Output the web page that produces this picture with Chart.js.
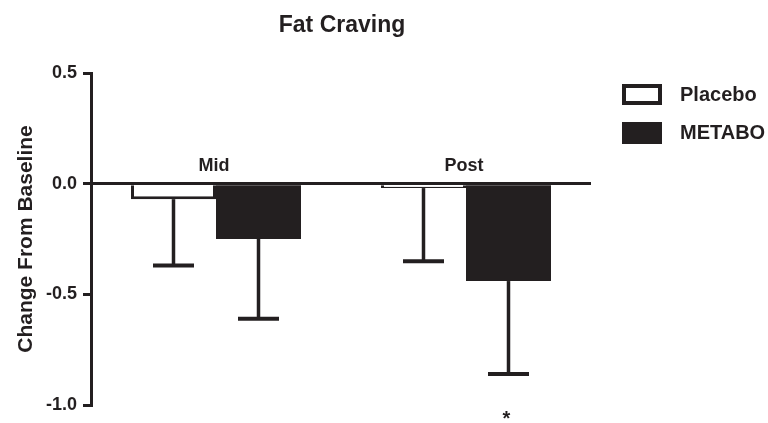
<!DOCTYPE html>
<html>
<head>
<meta charset="utf-8">
<script src="https://cdn.jsdelivr.net/npm/chart.js@4"></script>
<style>
  html, body { margin: 0; padding: 0; background: #fff; }
  #wrap { width: 768px; height: 423px; }
</style>
</head>
<body>
<div id="wrap"><canvas id="chart" width="768" height="423"></canvas></div>
<script>
const categories = ['Mid', 'Post']
const seriesNames = ['Placebo', 'METABO']
const placeboMeans = [-0.07, -0.02]
const placeboErr = [0.30, 0.33]
const metaboMeans = [-0.25, -0.44]
const metaboErr = [0.36, 0.42]
const metaboMarks = ['', '*']
const yTicks = [0.5, 0.0, -0.5, -1.0]
const chartTitle = 'Fat Craving'

const ink = '#231f20'
const fontFam = '"Liberation Sans", Arial, Helvetica, sans-serif'

// error bars (downward only) + significance marks
const errorBars = {
  id: 'errorBars',
  afterDatasetsDraw(chart){
    const ctx = chart.ctx
    const y = chart.scales.y
    const errs = [placeboErr, metaboErr]
    chart.data.datasets.forEach((ds, di) => {
      const meta = chart.getDatasetMeta(di)
      meta.data.forEach((bar, i) => {
        const v = ds.data[i]
        const yTop = y.getPixelForValue(v)
        const yEnd = y.getPixelForValue(v - errs[di][i])
        ctx.save()
        ctx.strokeStyle = ink
        ctx.lineWidth = 3.5
        ctx.beginPath()
        ctx.moveTo(bar.x, yTop); ctx.lineTo(bar.x, yEnd)
        ctx.stroke()
        ctx.lineWidth = 4
        ctx.beginPath()
        ctx.moveTo(bar.x - 20.5, yEnd); ctx.lineTo(bar.x + 20.5, yEnd)
        ctx.stroke()
        if (di === 1 && metaboMarks[i]){
          ctx.fillStyle = ink
          ctx.font = 'bold 20px ' + fontFam
          ctx.textAlign = 'center'
          ctx.textBaseline = 'middle'
          ctx.fillText(metaboMarks[i], bar.x - 2, 419)
        }
        ctx.restore()
      })
    })
  }
}

// title, category labels above the zero line, legend on the right
const annotations = {
  id: 'annotations',
  afterDraw(chart){
    const ctx = chart.ctx
    const x = chart.scales.x, y = chart.scales.y
    ctx.save()
    ctx.fillStyle = ink
    ctx.font = 'bold 23px ' + fontFam
    ctx.textAlign = 'center'
    ctx.textBaseline = 'alphabetic'
    ctx.fillText(chartTitle, 342, 32)

    ctx.font = 'bold 18px ' + fontFam
    ctx.textBaseline = 'middle'
    categories.forEach((c, i) => {
      ctx.fillText(c, x.getPixelForValue(i) - 2, y.getPixelForValue(0) - 18)
    })

    const bx = 622, bw = 40, bh = 21
    const rows = [84, 122]
    seriesNames.forEach((name, i) => {
      const by = rows[i]
      if (i === 0){
        ctx.fillStyle = '#fff'
        ctx.fillRect(bx, by, bw, bh)
        ctx.strokeStyle = ink
        ctx.lineWidth = 4
        ctx.strokeRect(bx + 2, by + 2, bw - 4, bh - 4)
      } else {
        ctx.fillStyle = ink
        ctx.fillRect(bx, by, bw, bh + 1)
      }
      ctx.fillStyle = ink
      ctx.font = 'bold 20px ' + fontFam
      ctx.textAlign = 'left'
      ctx.textBaseline = 'middle'
      ctx.fillText(name, 680, by + bh / 2 + 1)
    })
    ctx.restore()
  }
}

new Chart(document.getElementById('chart'), {
  type: 'bar',
  data: {
    labels: categories,
    datasets: [
      { label: seriesNames[0], data: placeboMeans, backgroundColor: '#fff', borderColor: ink, borderWidth: 3, borderSkipped: 'start' },
      { label: seriesNames[1], data: metaboMeans, backgroundColor: ink, borderColor: ink, borderWidth: 0 }
    ]
  },
  options: {
    responsive: false,
    animation: false,
    devicePixelRatio: 1,
    categoryPercentage: 0.68,
    barPercentage: 1.0,
    layout: { padding: { left: 3, right: 177, top: 73, bottom: 18 } },
    plugins: {
      legend: { display: false },
      tooltip: { enabled: false },
      title: { display: false }
    },
    scales: {
      x: { display: false },
      y: {
        min: -1.0,
        max: 0.5,
        afterFit: s => { s.width = 88 },
        afterBuildTicks: s => { s.ticks = yTicks.map(v => ({ value: v })) },
        border: { display: true, color: ink, width: 3 },
        grid: {
          drawOnChartArea: true,
          color: c => c.tick && c.tick.value === 0 ? ink : 'rgba(0,0,0,0)',
          lineWidth: 3,
          tickColor: ink,
          tickLength: 8,
          tickWidth: 3
        },
        ticks: {
          color: ink,
          padding: 6,
          font: { family: fontFam, size: 18, weight: 'bold' },
          callback: v => Number(v).toFixed(1)
        },
        title: {
          display: true,
          text: 'Change From Baseline',
          color: ink,
          font: { family: fontFam, size: 21, weight: 'bold' },
          padding: { top: 11, bottom: 0 }
        }
      }
    }
  },
  plugins: [errorBars, annotations]
})
</script>
</body>
</html>
